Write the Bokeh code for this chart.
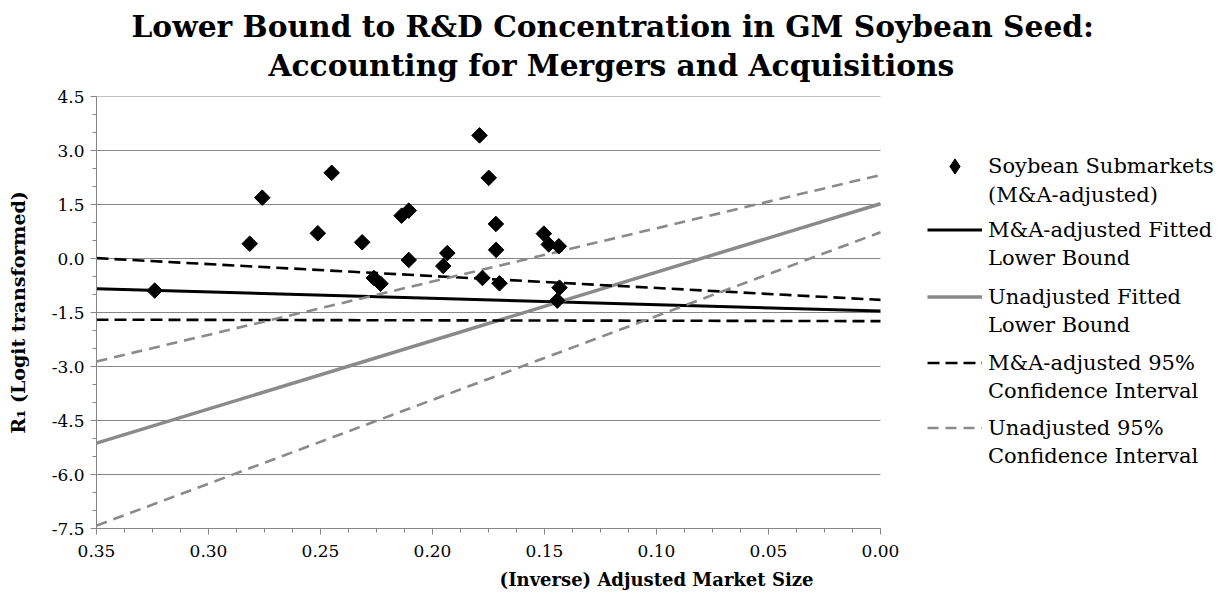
from bokeh.plotting import figure
from bokeh.models import (Range1d, FixedTicker, PrintfTickFormatter, Title, Legend, LegendItem)
from bokeh.embed import file_html
from bokeh.resources import INLINE
import numpy as np

# ---- data ----
mkt_size = [0.324, 0.2816, 0.276, 0.245, 0.2512, 0.2314, 0.2262, 0.2232, 0.2138, 0.2106,
            0.2106, 0.1934, 0.1952, 0.179, 0.1777, 0.1749, 0.1717, 0.1716, 0.1701, 0.1503,
            0.1481, 0.1436, 0.1433, 0.1443]
r1_logit = [-0.89, 0.41, 1.69, 2.38, 0.70, 0.45, -0.54, -0.70, 1.19, 1.33,
            -0.04, 0.15, -0.21, 3.42, -0.54, 2.24, 0.96, 0.24, -0.69, 0.69,
            0.39, 0.34, -0.81, -1.17]

line_x = [0.35, 0.0]
ma_fit = [-0.84, -1.46]
ma_ci_upper = [0.01, -1.15]
ma_ci_lower = [-1.70, -1.74]
un_fit = [-5.13, 1.52]
un_ci_upper = [-2.86, 2.32]
un_ci_lower = [-7.42, 0.73]

x_ticks = [0.35, 0.30, 0.25, 0.20, 0.15, 0.10, 0.05, 0.00]
x_minor = [round(0.0125 * i, 4) for i in range(29)]
y_ticks = [-7.5, -6.0, -4.5, -3.0, -1.5, 0.0, 1.5, 3.0, 4.5]
y_minor = [round(-7.5 + 0.5 * i, 2) for i in range(25)]

title_lines = ["Lower Bound to R&D Concentration in GM Soybean Seed:",
               "Accounting for Mergers and Acquisitions"]
legend_labels = [("Soybean Submarkets", "(M&A-adjusted)"),
                 ("M&A-adjusted Fitted", "Lower Bound"),
                 ("Unadjusted Fitted", "Lower Bound"),
                 ("M&A-adjusted 95%", "Confidence Interval"),
                 ("Unadjusted 95%", "Confidence Interval")]

FONT = "DejaVu Serif"
GRID = "#868686"
GRAY = "#8a8a8a"

# frame: 0.35 .. 0.00 occupies the plotted area; the range continues to the right
# so that the legend can sit inside the frame
p = figure(width=1216, height=597, output_backend="svg", toolbar_location=None,
           x_range=Range1d(0.35, -0.15), y_range=Range1d(-7.5, 4.5),
           min_border_left=96, min_border_right=0, min_border_top=96, min_border_bottom=69)
p.outline_line_color = None
p.background_fill_color = "white"
p.border_fill_color = "white"
p.xgrid.grid_line_color = None
p.ygrid.grid_line_color = None

# horizontal gridlines limited to the axis extent
p.segment(x0=[x_ticks[0]] * len(y_ticks), x1=[x_ticks[-1]] * len(y_ticks),
          y0=y_ticks, y1=y_ticks, line_color=GRID, line_width=1)

p.xaxis.ticker = FixedTicker(ticks=x_ticks, minor_ticks=x_minor)
p.yaxis.ticker = FixedTicker(ticks=y_ticks, minor_ticks=y_minor)
p.xaxis.formatter = PrintfTickFormatter(format="%.2f")
p.yaxis.formatter = PrintfTickFormatter(format="%.1f")
p.xaxis.bounds = (x_ticks[-1], x_ticks[0])

for ax in (p.xaxis[0], p.yaxis[0]):
    ax.axis_line_color = GRID
    ax.major_tick_line_color = GRID
    ax.minor_tick_line_color = GRID
    ax.major_tick_out = 6
    ax.major_tick_in = 0
    ax.minor_tick_out = 4
    ax.minor_tick_in = 0
    ax.major_label_text_font = FONT
    ax.major_label_text_font_size = "17px"
    ax.major_label_text_color = "black"
    ax.axis_label_text_font = FONT
    ax.axis_label_text_font_style = "bold"
    ax.axis_label_text_font_size = "18px"
    ax.axis_label_text_color = "black"

p.yaxis.axis_label_text_font_size = "19px"
p.xaxis.axis_label = "(Inverse) Adjusted Market Size"
p.yaxis.axis_label = "R\u2081 (Logit transformed)"
p.xaxis.major_label_standoff = 10
p.yaxis.major_label_standoff = 6
p.xaxis.axis_label_standoff = 9
p.yaxis.axis_label_standoff = 20

# lines
r_ma_fit = p.line(line_x, ma_fit, line_color="black", line_width=3)
r_un_fit = p.line(line_x, un_fit, line_color=GRAY, line_width=3.5)
r_ma_up = p.line(line_x, ma_ci_upper, line_color="black", line_width=2.6, line_dash="12 6")
r_ma_lo = p.line(line_x, ma_ci_lower, line_color="black", line_width=2.6, line_dash="12 6")
r_un_up = p.line(line_x, un_ci_upper, line_color=GRAY, line_width=2.6, line_dash="11 7")
r_un_lo = p.line(line_x, un_ci_lower, line_color=GRAY, line_width=2.6, line_dash="11 7")

# legend stand-in for the points (a small diamond hidden under the first point)
r_leg_pts = p.scatter(mkt_size[:1], r1_logit[:1], marker="diamond", size=8,
                      fill_color="black", line_color="black")
r_pts = p.scatter(mkt_size, r1_logit, marker="square", size=11, angle=np.pi / 4,
                  fill_color="black", line_color="black")
r_blank = p.line(x=[], y=[], line_alpha=0)


def add_legend(items, vy, h, spacing):
    lg = Legend(items=items, location=(831, vy))
    lg.label_text_font = FONT
    lg.label_text_font_size = "21px"
    lg.label_text_color = "black"
    lg.glyph_width = 55
    lg.glyph_height = h
    lg.label_height = h
    lg.label_standoff = 6
    lg.spacing = spacing
    lg.padding = 0
    lg.margin = 0
    lg.border_line_color = None
    lg.background_fill_alpha = 0
    p.add_layout(lg)


# first entry: bigger glyph box so that the diamond marker is drawn larger
add_legend([LegendItem(label=legend_labels[0][0], renderers=[r_leg_pts])], 343, 38, 0)
add_legend([LegendItem(label=legend_labels[0][1], renderers=[r_blank])], 321, 25, 0)

entry_renderers = [r_ma_fit, r_un_fit, r_ma_up, r_un_up]
entry_pos = [258, 191, 125, 60]
for (l1, l2), rend, vy in zip(legend_labels[1:], entry_renderers, entry_pos):
    add_legend([LegendItem(label=l1, renderers=[rend]),
                LegendItem(label=l2, renderers=[r_blank])], vy, 25, 3)

# title (two lines, stacked above the frame; first added is nearest the frame)
p.add_layout(Title(text=title_lines[1], align="left", offset=172, standoff=28,
                   text_font=FONT, text_font_style="bold", text_font_size="29.7px",
                   text_color="black"), "above")
p.add_layout(Title(text=title_lines[0], align="left", offset=35, standoff=-25,
                   text_font=FONT, text_font_style="bold", text_font_size="29.7px",
                   text_color="black"), "above")

open("out.html", "w").write(file_html(p, INLINE))
